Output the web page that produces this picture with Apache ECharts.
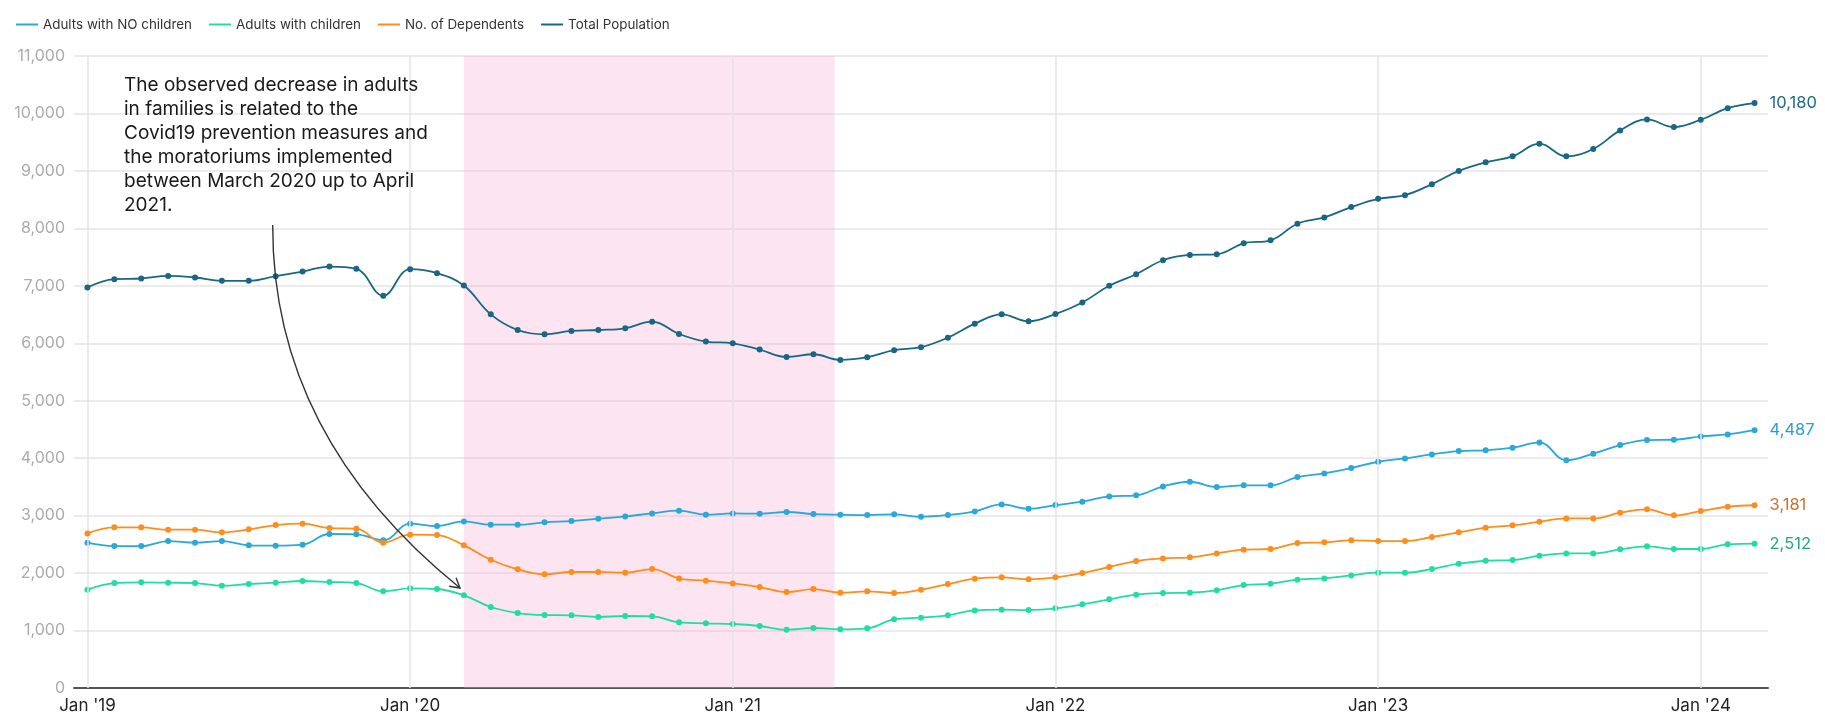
<!DOCTYPE html>
<html>
<head>
<meta charset="utf-8">
<script src="https://cdn.jsdelivr.net/npm/echarts@6/dist/echarts.min.js"></script>
<style>
  html, body { margin: 0; padding: 0; background: #ffffff; }
  #chart { width: 1825px; height: 718px; }
</style>
</head>
<body>
<div id="chart"></div>
<script>
const categories = [
  'Jan 2019','Feb 2019','Mar 2019','Apr 2019','May 2019','Jun 2019','Jul 2019','Aug 2019','Sep 2019','Oct 2019','Nov 2019','Dec 2019',
  'Jan 2020','Feb 2020','Mar 2020','Apr 2020','May 2020','Jun 2020','Jul 2020','Aug 2020','Sep 2020','Oct 2020','Nov 2020','Dec 2020',
  'Jan 2021','Feb 2021','Mar 2021','Apr 2021','May 2021','Jun 2021','Jul 2021','Aug 2021','Sep 2021','Oct 2021','Nov 2021','Dec 2021',
  'Jan 2022','Feb 2022','Mar 2022','Apr 2022','May 2022','Jun 2022','Jul 2022','Aug 2022','Sep 2022','Oct 2022','Nov 2022','Dec 2022',
  'Jan 2023','Feb 2023','Mar 2023','Apr 2023','May 2023','Jun 2023','Jul 2023','Aug 2023','Sep 2023','Oct 2023','Nov 2023','Dec 2023',
  'Jan 2024','Feb 2024','Mar 2024'
];
const janCategories = ['Jan 2019','Jan 2020','Jan 2021','Jan 2022','Jan 2023','Jan 2024'];
const xTickLabels = ["Jan '19","Jan '20","Jan '21","Jan '22","Jan '23","Jan '24"];

const adultsNoChildren = [
  2530, 2471, 2471, 2558, 2529, 2558, 2483, 2477, 2494, 2680, 2674, 2570,
  2860, 2819, 2900, 2842, 2842, 2883, 2906, 2947, 2987, 3039, 3086, 3016,
  3039, 3034, 3063, 3028, 3016, 3010, 3022, 2981, 3010, 3074, 3196, 3121,
  3184, 3242, 3335, 3353, 3509, 3590, 3497, 3527, 3527, 3672, 3735, 3828,
  3938, 3996, 4066, 4124, 4136, 4182, 4275, 3962, 4078, 4229, 4316, 4321,
  4379, 4414, 4487
];
const adultsWithChildren = [
  1711, 1827, 1839, 1833, 1827, 1781, 1810, 1833, 1862, 1845, 1827, 1682,
  1734, 1723, 1613, 1410, 1305, 1270, 1265, 1236, 1253, 1247, 1143, 1125,
  1114, 1079, 1015, 1044, 1021, 1038, 1195, 1224, 1265, 1351, 1363, 1357,
  1386, 1456, 1543, 1624, 1653, 1659, 1700, 1792, 1815, 1885, 1908, 1960,
  2007, 2007, 2070, 2163, 2215, 2227, 2303, 2343, 2343, 2413, 2465, 2419,
  2419, 2500, 2512
];
const dependents = [
  2691, 2796, 2796, 2755, 2755, 2709, 2761, 2836, 2860, 2784, 2773, 2529,
  2668, 2662, 2483, 2233, 2065, 1978, 2019, 2019, 2007, 2070, 1908, 1867,
  1821, 1757, 1670, 1722, 1659, 1682, 1653, 1711, 1810, 1902, 1926, 1891,
  1926, 2001, 2106, 2210, 2256, 2274, 2343, 2407, 2419, 2523, 2535, 2570,
  2558, 2558, 2628, 2709, 2790, 2831, 2894, 2952, 2952, 3051, 3109, 3005,
  3080, 3155, 3181
];
const totalPopulation = [
  6970, 7116, 7127, 7173, 7145, 7087, 7087, 7168, 7249, 7335, 7295, 6827,
  7289, 7220, 7006, 6503, 6231, 6156, 6214, 6231, 6260, 6376, 6162, 6029,
  6000, 5890, 5763, 5809, 5711, 5757, 5879, 5931, 6098, 6341, 6503, 6382,
  6509, 6711, 7000, 7202, 7445, 7538, 7549, 7740, 7792, 8081, 8191, 8370,
  8514, 8578, 8769, 9000, 9150, 9254, 9474, 9254, 9382, 9705, 9896, 9763,
  9890, 10092, 10180
];

const seriesNames = ['Adults with NO children', 'Adults with children', 'No. of Dependents', 'Total Population'];
// Covid period in month-index units (Mar 2020 start, ~late Apr 2021 end)
const covidStartMonth = 14.0;
const covidEndMonth = 27.78;
const annotationLines = [
  'The observed decrease in adults',
  'in families is related to the',
  'Covid19 prevention measures and',
  'the moratoriums implemented',
  'between March 2020 up to April',
  '2021.'
];

const FONT = 'Inter, "Noto Sans", sans-serif';
const lineColors = ['#29a8da', '#20dea3', '#ff8d1c', '#186784'];
const labelColors = ['#2a9fd3', '#25a77c', '#d0702a', '#1f6b86'];
const dataSets = [adultsNoChildren, adultsWithChildren, dependents, totalPopulation];

const chart = echarts.init(document.getElementById('chart'), null, { renderer: 'canvas' });

const lineSeries = seriesNames.map((name, i) => ({
  name: name,
  type: 'line',
  xAxisIndex: 0,
  data: dataSets[i],
  smooth: 0.4,
  symbol: 'circle',
  symbolSize: 6,
  showSymbol: true,
  z: 3 + i,
  itemStyle: { color: lineColors[i] },
  lineStyle: { color: lineColors[i], width: 1.8 },
  endLabel: {
    show: true,
    distance: 15,
    color: labelColors[i],
    fontSize: 16.5,
    fontFamily: FONT,
    formatter: p => Number(p.value).toLocaleString('en-US')
  },
  emphasis: { disabled: true }
}));

// arrow geometry (annotation)
const ax0 = 272.7, ay0 = 225, cx = 272, cy = 436, ax1 = 460, ay1 = 588;
const dx = ax1 - cx, dy = ay1 - cy, dl = Math.sqrt(dx * dx + dy * dy);
const ux = dx / dl, uy = dy / dl;
const headLen = 11, ang = Math.PI / 6;
function rot(x, y, a) { return [x * Math.cos(a) - y * Math.sin(a), x * Math.sin(a) + y * Math.cos(a)]; }
const h1 = rot(-ux, -uy, ang), h2 = rot(-ux, -uy, -ang);

const option = {
  animation: false,
  backgroundColor: '#ffffff',
  textStyle: { fontFamily: FONT },
  legend: {
    data: seriesNames,
    left: 11,
    top: 13,
    icon: 'rect',
    itemWidth: 22,
    itemHeight: 2,
    itemGap: 17,
    textStyle: { color: '#333333', fontSize: 13.4, fontFamily: FONT },
    selectedMode: false
  },
  grid: {
    left: 74,
    right: 57,
    top: 56,
    bottom: 30,
    containLabel: false,
    outerBoundsMode: 'none'
  },
  xAxis: [
    {
      type: 'category',
      data: categories,
      boundaryGap: true,
      axisLine: { show: true, lineStyle: { color: '#555555', width: 2 } },
      axisTick: { show: false },
      splitLine: { show: false },
      axisLabel: {
        interval: idx => idx % 12 === 0,
        formatter: v => { const k = janCategories.indexOf(v); return k >= 0 ? xTickLabels[k] : ''; },
        color: '#222222',
        fontSize: 17,
        fontFamily: FONT,
        margin: 9
      }
    },
    {
      type: 'value',
      min: -0.5,
      max: categories.length - 0.5,
      show: false,
      splitLine: { show: false }
    }
  ],
  yAxis: {
    type: 'value',
    min: 0,
    max: 11000,
    interval: 1000,
    axisLine: { show: false },
    axisTick: { show: false },
    splitLine: { show: true, lineStyle: { color: '#ebebeb', width: 2 } },
    axisLabel: {
      formatter: v => Number(v).toLocaleString('en-US'),
      color: '#ababab',
      fontSize: 16,
      fontFamily: FONT,
      margin: 9
    }
  },
  series: [
    {
      name: '_covid',
      type: 'line',
      xAxisIndex: 1,
      data: [],
      silent: true,
      z: 1,
      markArea: {
        silent: true,
        itemStyle: { color: 'rgba(247,170,210,0.32)' },
        data: [[{ xAxis: covidStartMonth, yAxis: 0 }, { xAxis: covidEndMonth, yAxis: 11000 }]]
      }
    },
    {
      name: '_vgrid',
      type: 'line',
      xAxisIndex: 0,
      data: [],
      silent: true,
      z: 2,
      markLine: {
        silent: true,
        symbol: ['none', 'none'],
        label: { show: false },
        lineStyle: { color: '#e4e4e4', width: 1.5, type: 'solid' },
        data: janCategories.map(c => ({ xAxis: c }))
      }
    }
  ].concat(lineSeries),
  graphic: [
    {
      type: 'text',
      left: 124,
      top: 73,
      z: 10,
      style: {
        text: annotationLines.join('\n'),
        font: '19px ' + FONT,
        fill: '#1a1a1a',
        lineHeight: 24
      }
    },
    {
      type: 'bezierCurve',
      z: 10,
      shape: { x1: ax0, y1: ay0, cpx1: cx, cpy1: cy, x2: ax1, y2: ay1 },
      style: { stroke: '#333333', lineWidth: 1.4, fill: null }
    },
    {
      type: 'polyline',
      z: 10,
      shape: { points: [[ax1 + h1[0] * headLen, ay1 + h1[1] * headLen], [ax1, ay1], [ax1 + h2[0] * headLen, ay1 + h2[1] * headLen]] },
      style: { stroke: '#333333', lineWidth: 1.4, fill: null }
    }
  ]
};

chart.setOption(option);
</script>
</body>
</html>
